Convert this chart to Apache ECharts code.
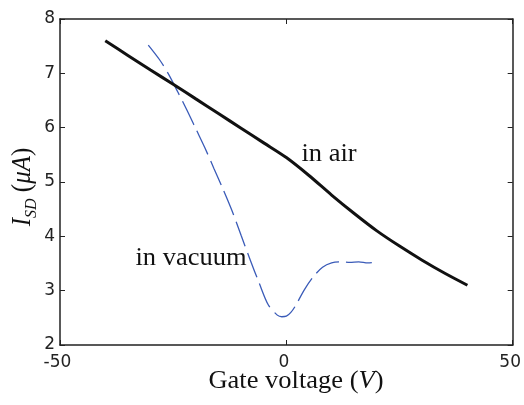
<!DOCTYPE html>
<html><head><meta charset="utf-8">
<script src="https://cdn.jsdelivr.net/npm/echarts@6/dist/echarts.min.js"></script>
<style>html,body{margin:0;padding:0;background:#fff}#c{width:524px;height:405px}</style>
</head><body><div id="c"></div>
<script>
// Data
var xTicks = [-50, 0, 50];
var yTicks = [2, 3, 4, 5, 6, 7, 8];
var airX = [-40, -35, -30, -25, -20, -15, -10, -5, 0, 5, 10, 15, 20, 25, 30, 35, 40];
var airY = [7.60, 7.33, 7.06, 6.80, 6.53, 6.26, 5.99, 5.72, 5.45, 5.12, 4.76, 4.42, 4.10, 3.82, 3.56, 3.32, 3.10];
var vacX = [-30.5, -28, -26, -24, -22, -20, -18, -16, -14, -12, -10, -8, -6, -4, -2, -1, 0, 1, 2, 4, 6, 8, 10, 12, 14, 16, 18, 19.5];
var vacY = [7.52, 7.25, 6.98, 6.66, 6.33, 5.98, 5.63, 5.25, 4.87, 4.47, 4.02, 3.57, 3.14, 2.74, 2.55, 2.52, 2.53, 2.60, 2.72, 3.02, 3.26, 3.43, 3.51, 3.53, 3.52, 3.53, 3.51, 3.52];
var labelAir = 'in air';
var labelVac = 'in vacuum';

function pairs(xs, ys) { return xs.map(function (x, i) { return [x, ys[i]]; }); }

var axisCol = '#222';
var tickFont = { fontFamily: 'DejaVu Sans', fontSize: 17, color: axisCol };
var serif = 'Liberation Serif';
var sx = 1.06;

var chart = echarts.init(document.getElementById('c'), null, { renderer: 'canvas' });
chart.setOption({
  animation: false,
  backgroundColor: '#fff',
  grid: { left: 60, right: 11, top: 19, bottom: 60 },
  xAxis: [
    { type: 'value', position: 'bottom', min: xTicks[0], max: xTicks[xTicks.length - 1], interval: 50,
      axisLine: { onZero: false, lineStyle: { color: axisCol, width: 1.5 } },
      axisTick: { inside: true, length: 5, lineStyle: { color: axisCol } },
      axisLabel: Object.assign({ margin: 9, padding: [0, 5, 0, 0] }, tickFont),
      splitLine: { show: false } },
    { type: 'value', position: 'top', min: xTicks[0], max: xTicks[xTicks.length - 1], interval: 50,
      axisLine: { onZero: false, lineStyle: { color: axisCol, width: 1.5 } },
      axisTick: { inside: true, length: 5, lineStyle: { color: axisCol } },
      axisLabel: { show: false }, splitLine: { show: false } }
  ],
  yAxis: [
    { type: 'value', position: 'left', min: yTicks[0], max: yTicks[yTicks.length - 1], interval: 1,
      axisLine: { show: true, onZero: false, lineStyle: { color: axisCol, width: 1.5 } },
      axisTick: { show: true, inside: true, length: 5, lineStyle: { color: axisCol } },
      axisLabel: Object.assign({ margin: 5 }, tickFont),
      splitLine: { show: false } },
    { type: 'value', position: 'right', min: yTicks[0], max: yTicks[yTicks.length - 1], interval: 1,
      axisLine: { show: true, onZero: false, lineStyle: { color: axisCol, width: 1.5 } },
      axisTick: { show: true, inside: true, length: 5, lineStyle: { color: axisCol } },
      axisLabel: { show: false }, splitLine: { show: false } }
  ],
  series: [
    { name: labelAir, type: 'line', data: pairs(airX, airY), showSymbol: false, smooth: 0.3,
      lineStyle: { color: '#111', width: 3 }, z: 3 },
    { name: labelVac, type: 'line', data: pairs(vacX, vacY), showSymbol: false, smooth: 0.3,
      lineStyle: { color: '#3a5bb8', width: 1.3, type: [26, 7] }, z: 2 }
  ],
  graphic: [
    { type: 'text', x: 329, y: 154, scaleX: sx, style: { text: labelAir, font: '25px "' + serif + '"', fill: '#111', align: 'center', verticalAlign: 'middle' } },
    { type: 'text', x: 191, y: 258, scaleX: sx, style: { text: labelVac, font: '25px "' + serif + '"', fill: '#111', align: 'center', verticalAlign: 'middle' } },
    { type: 'text', x: 296, y: 381, scaleX: sx, style: {
        text: '{n|Gate voltage (}{i|V}{n|)}', fill: '#111', align: 'center', verticalAlign: 'middle',
        rich: { n: { fontFamily: serif, fontSize: 25, fill: '#111' }, i: { fontFamily: serif, fontSize: 25, fontStyle: 'italic', fill: '#111' } } } },
    { type: 'text', x: 23, y: 187, rotation: Math.PI / 2, scaleY: sx, style: {
        text: '{i|I}{s|SD}{n| (}{i|μA}{n|)}', fill: '#111', align: 'center', verticalAlign: 'middle',
        rich: {
          i: { fontFamily: serif, fontSize: 25, fontStyle: 'italic', lineHeight: 32, verticalAlign: 'middle', fill: '#111' },
          n: { fontFamily: serif, fontSize: 25, lineHeight: 32, verticalAlign: 'middle', fill: '#111' },
          s: { fontFamily: serif, fontSize: 16, fontStyle: 'italic', lineHeight: 16, verticalAlign: 'bottom', fill: '#111' }
        } } }
  ]
});
</script>
</body></html>
